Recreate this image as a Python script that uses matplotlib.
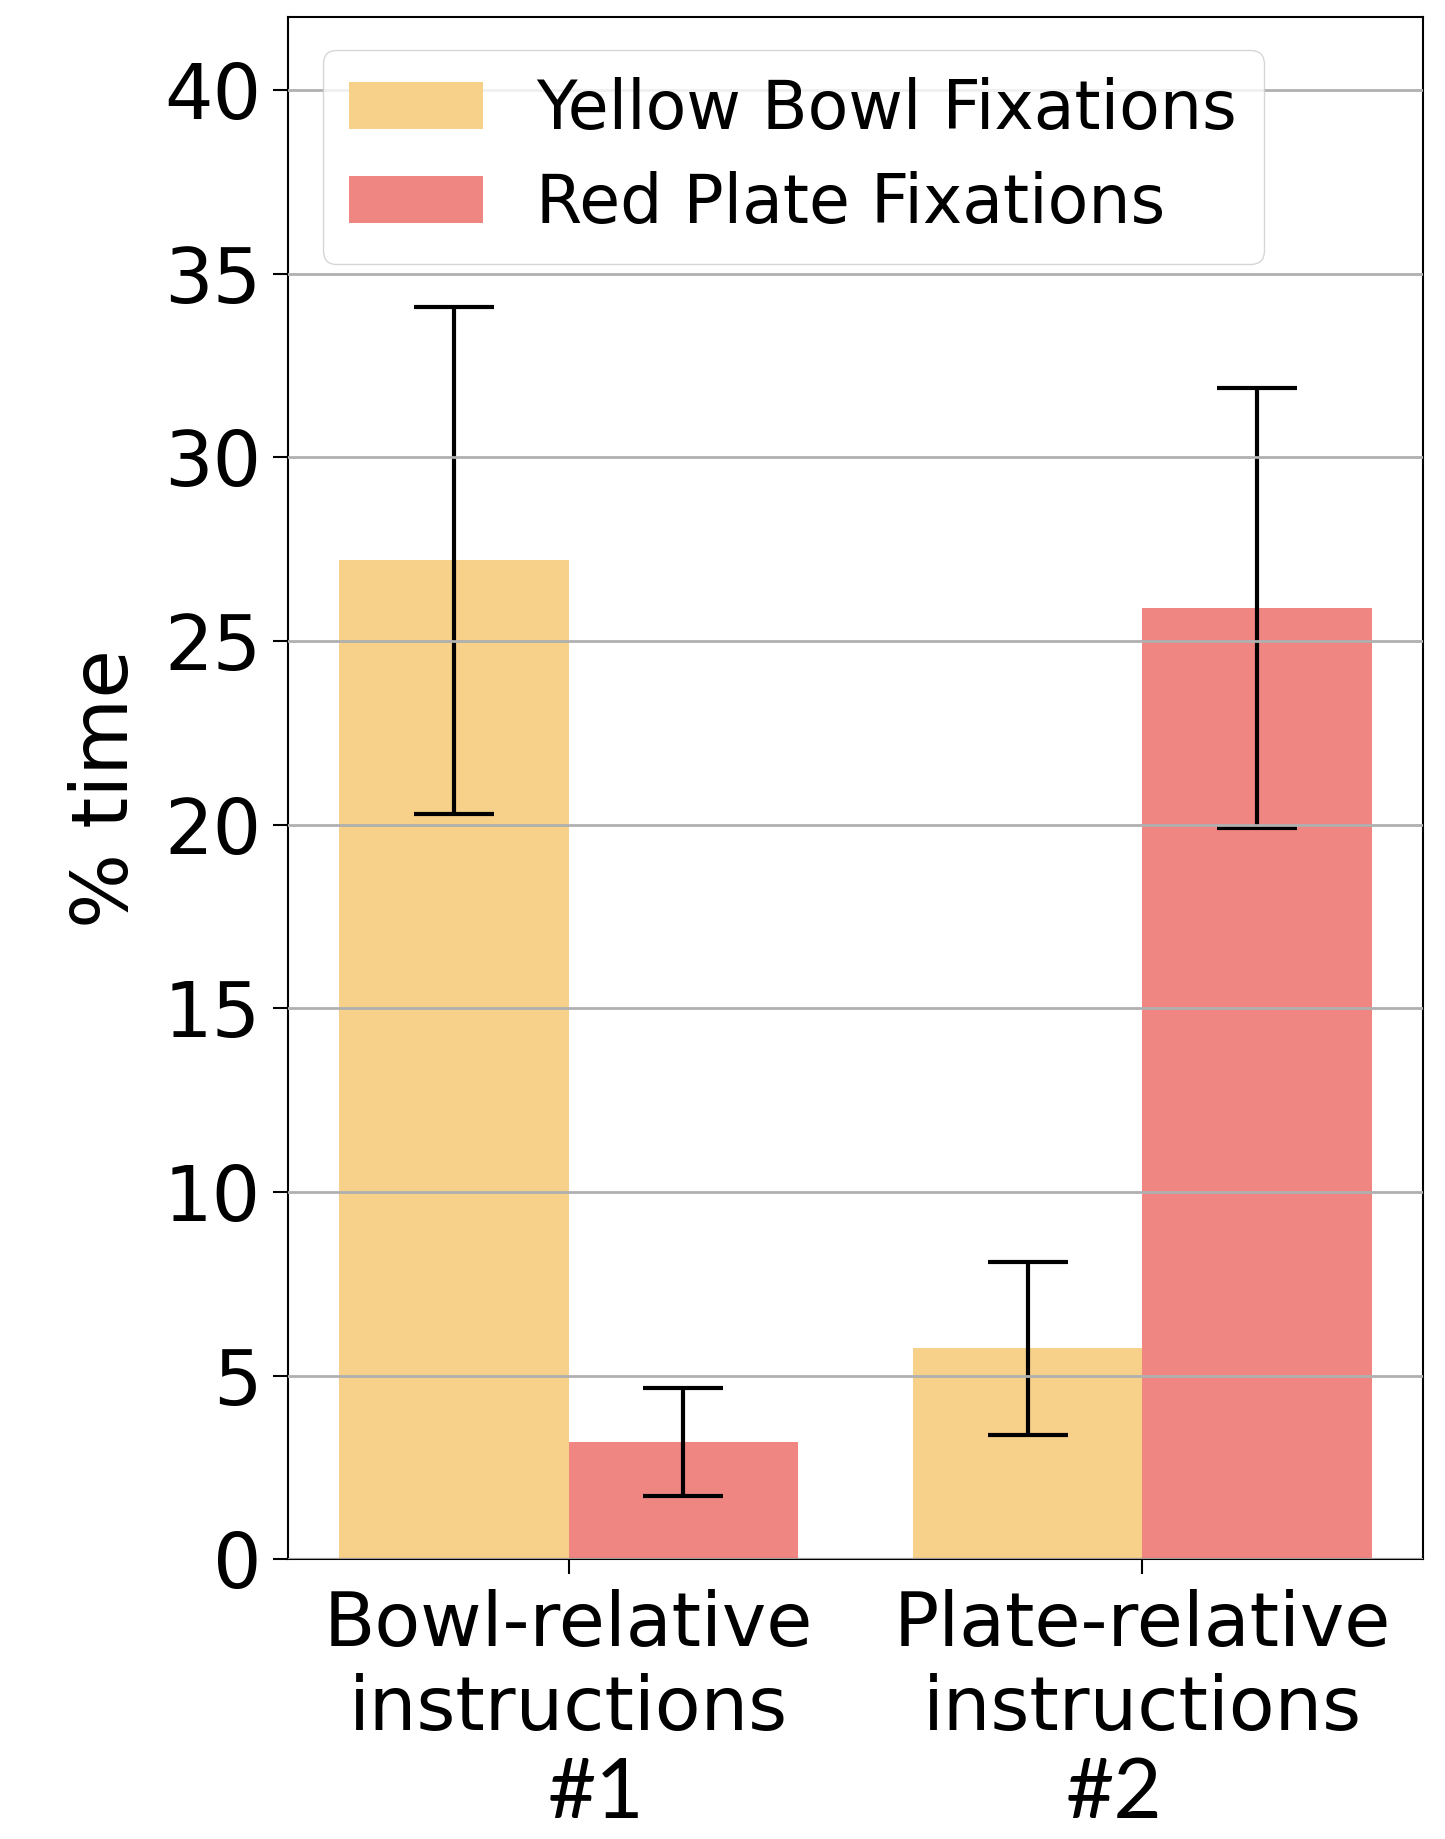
import numpy as np
import matplotlib.pyplot as plt

groups = ["Bowl-relative\ninstructions", "Plate-relative\ninstructions"]
group_tags = ["#1", "#2"]
series = ["Yellow Bowl Fixations", "Red Plate Fixations"]
yellow_vals = [27.2, 5.75]
yellow_err = [6.9, 2.36]
red_vals = [3.2, 25.9]
red_err = [1.48, 6.0]
colors = ["#f7d08a", "#f08682"]

fig = plt.figure(figsize=(14.45, 18.39), dpi=100)
ax = fig.add_axes([0.199, 0.152, 0.786, 0.839])

x = np.arange(len(groups))
w = 0.4
err_kw = dict(ecolor="black", elinewidth=3, capsize=29, capthick=3)
ax.bar(x - w/2, yellow_vals, w, yerr=yellow_err, color=colors[0],
       label=series[0], error_kw=err_kw)
ax.bar(x + w/2, red_vals, w, yerr=red_err, color=colors[1],
       label=series[1], error_kw=err_kw)

ax.set_ylim(0, 42)
ax.set_yticks(np.arange(0, 41, 5))
ax.yaxis.grid(True, color="#b0b0b0", linewidth=2)
ax.set_axisbelow(False)
ax.set_xticks(x)
ax.set_xticklabels(groups, fontsize=54, linespacing=1.2)
ax.tick_params(axis="y", labelsize=55, length=11, width=1.5, pad=8)
ax.tick_params(axis="x", length=11, width=1.5, pad=10)
for s in ax.spines.values():
    s.set_linewidth(1.5)
ax.set_ylabel("% time", fontsize=57, labelpad=14)

# the "#1"/"#2" tags sit below each tick label, nudged slightly inward
for xi, tag, dx in zip(x, group_tags, [20, -20]):
    ax.annotate(tag, xy=(xi, 0), xycoords=("data", "axes fraction"),
                xytext=(dx, -186), textcoords="offset points",
                ha="center", va="baseline", fontsize=60, family="Lato")

ax.legend(loc="upper left", fontsize=48, handlelength=2.0,
          borderpad=0.4, labelspacing=0.42, handletextpad=0.8,
          borderaxespad=0, bbox_to_anchor=(0.031, 0.978))

fig.savefig("out.png", dpi=100)
